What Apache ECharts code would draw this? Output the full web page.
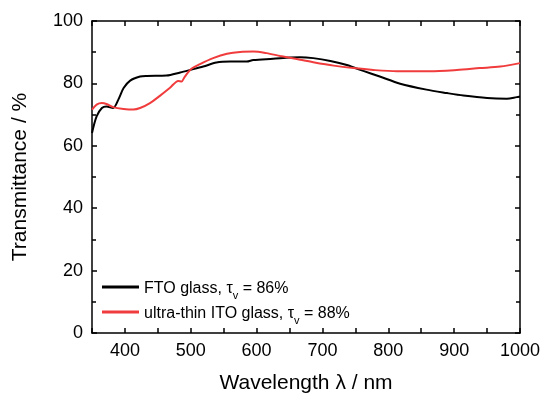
<!DOCTYPE html>
<html><head><meta charset="utf-8">
<script src="https://cdn.jsdelivr.net/npm/echarts@6/dist/echarts.min.js"></script>
<style>html,body{margin:0;padding:0;background:#fff}#c{width:544px;height:399px}</style>
</head><body><div id="c"></div>
<script>
const fto = [[350,64.1],[357,69.4],[365,72.1],[372,72.6],[382,72.1],[390,74.8],[398,78.5],[408,80.9],[423,82.2],[433,82.4],[463,82.5],[484,83.5],[499,84.3],[519,85.4],[539,86.7],[560,87.0],[585,87.0],[595,87.5],[625,87.9],[651,88.3],[666,88.4],[686,88.1],[712,87.2],[737,85.9],[762,84.0],[787,82.2],[818,79.9],[858,78.0],[889,76.9],[914,76.1],[950,75.3],[980,75.1],[995,75.6],[1000,75.8]];
const ito = [[350,71.6],[357,73.2],[365,73.7],[372,73.4],[382,72.4],[398,71.8],[413,71.6],[423,72.1],[438,73.7],[453,76.0],[468,78.5],[481,80.8],[486,80.6],[491,82.2],[501,84.7],[514,86.2],[534,88.1],[555,89.5],[575,90.1],[595,90.2],[615,89.7],[636,88.8],[661,87.8],[686,86.8],[717,85.7],[747,84.9],[777,84.3],[813,83.9],[863,83.9],[904,84.3],[939,84.9],[970,85.4],[1000,86.5]];
const font = 'Liberation Sans, Arial, sans-serif';
const chart = echarts.init(document.getElementById('c'));
function xa(pos, labels){
  return {type:'value', position:pos, min:350, max:1000, interval:50, splitLine:{show:false},
    axisLine:{show:true, onZero:false, lineStyle:{color:'#000', width:1.5}},
    axisTick:{show:true, inside:true, length:5, lineStyle:{color:'#000', width:1.5}},
    axisLabel:{show:labels, formatter: v => (v % 100 === 0 ? String(v) : ''), fontSize:18, fontFamily:font, color:'#000', margin:9}};
}
function ya(pos, labels){
  return {type:'value', min:0, max:100, interval:20, position:pos, splitLine:{show:false},
     axisLine:{show:true, lineStyle:{color:'#000', width:1.5}},
     axisTick:{show:true, inside:true, length:5, lineStyle:{color:'#000', width:1.5}},
     minorTick:{show:true, splitNumber:2, length:4, lineStyle:{color:'#000', width:1.5}},
     axisLabel:{show:labels, fontSize:18, fontFamily:font, color:'#000', margin:9}};
}
chart.setOption({
  animation:false,
  grid:{left:92, right:24, top:21, bottom:65},
  xAxis:[
    Object.assign(xa('bottom', true), {name:'Wavelength λ / nm', nameLocation:'middle', nameGap:40, nameTextStyle:{fontSize:21, fontFamily:font, color:'#000'}}),
    xa('top', false)
  ],
  yAxis:[
    Object.assign(ya('left', true), {name:'Transmittance / %', nameLocation:'middle', nameGap:61, nameTextStyle:{fontSize:21, fontFamily:font, color:'#000'}}),
    ya('right', false)
  ],
  legend:{orient:'vertical', left:97, top:276, itemWidth:37, itemHeight:3, itemGap:5, icon:'rect',
    data:['FTO','ITO'],
    formatter: n => n==='FTO' ? '{a|FTO glass, τ}{s|v}{a| = 86%}' : '{a|ultra-thin ITO glass, τ}{s|v}{a| = 88%}',
    textStyle:{fontFamily:font, color:'#000', fontSize:16,
      rich:{a:{fontSize:16, fontFamily:font, color:'#000', verticalAlign:'bottom', lineHeight:20},
            s:{fontSize:11, fontFamily:font, color:'#000', verticalAlign:'bottom', lineHeight:14, padding:[0,0,-4,0]}}}},
  series:[
    {name:'FTO', type:'line', data:fto, showSymbol:false, smooth:0.3, lineStyle:{color:'#000', width:2}, itemStyle:{color:'#000'}},
    {name:'ITO', type:'line', data:ito, showSymbol:false, smooth:0.3, lineStyle:{color:'#f03c3c', width:2}, itemStyle:{color:'#f03c3c'}}
  ]
});
</script></body></html>
